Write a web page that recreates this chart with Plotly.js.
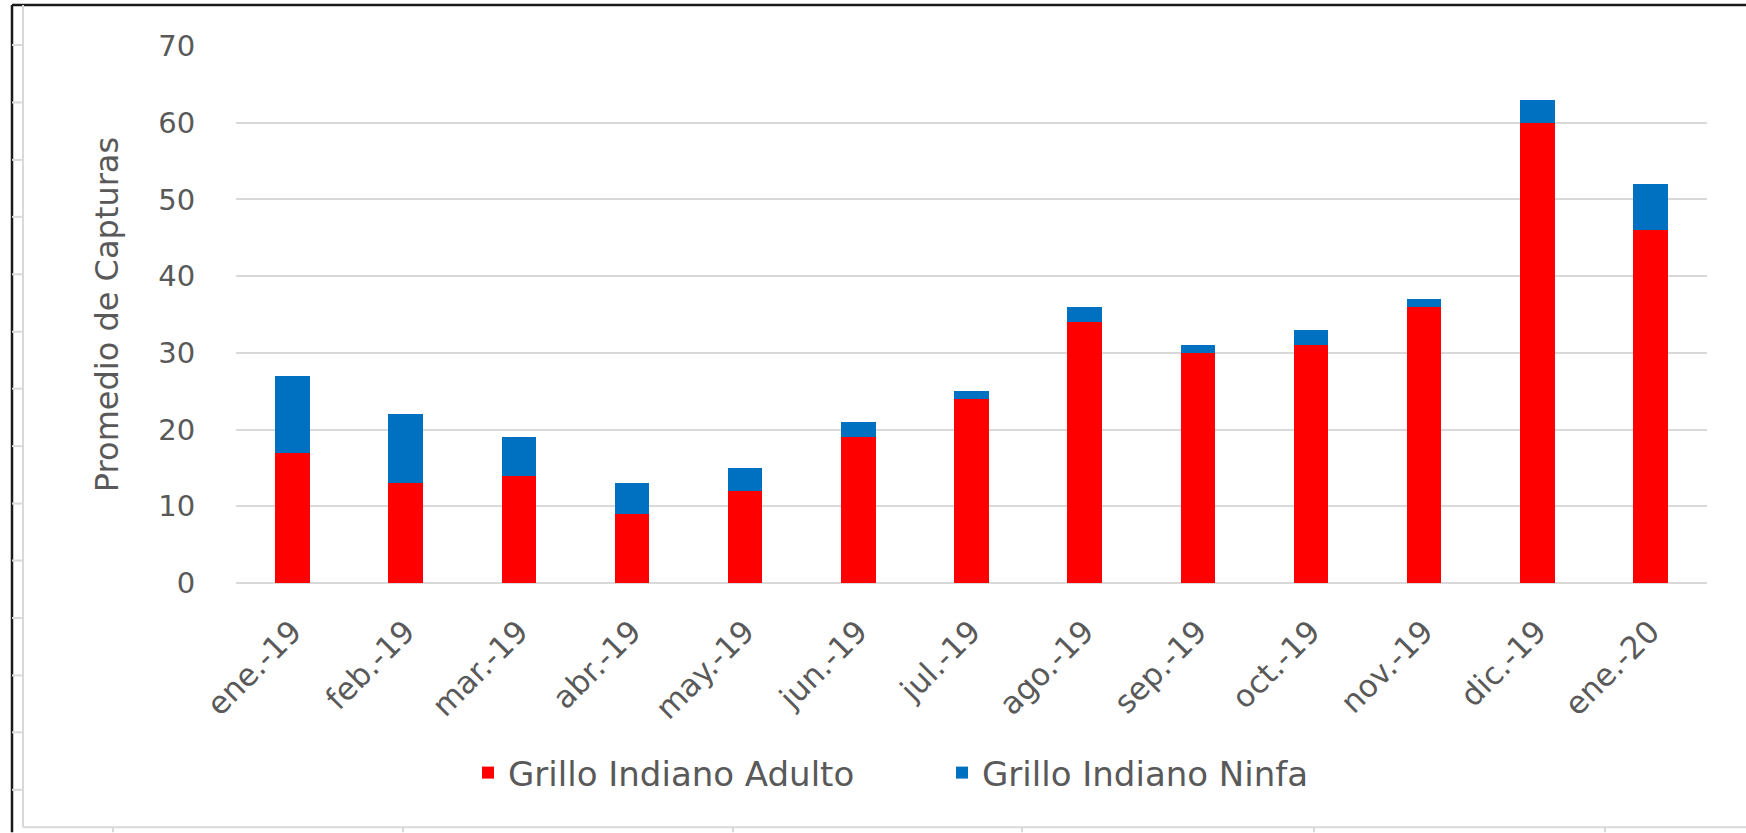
<!DOCTYPE html>
<html>
<head>
<meta charset="utf-8">
<script src="https://cdn.plot.ly/plotly-3.0.1.min.js"></script>
<style>
  html, body { margin: 0; padding: 0; background: #ffffff; }
  #chart { width: 1746px; height: 833px; }
</style>
</head>
<body>
<div id="chart"></div>
<script>
// ---- data ----
const months = ["ene.-19", "feb.-19", "mar.-19", "abr.-19", "may.-19", "jun.-19", "jul.-19",
                "ago.-19", "sep.-19", "oct.-19", "nov.-19", "dic.-19", "ene.-20"];
const adulto = [17, 13, 14, 9, 12, 19, 24, 34, 30, 31, 36, 60, 46];
const ninfa  = [10, 9, 5, 4, 3, 2, 1, 2, 1, 2, 1, 3, 6];
const seriesNames = ["Grillo Indiano Adulto", "Grillo Indiano Ninfa"];
const yTitle = "Promedio de Capturas";
const yTicks = [0, 10, 20, 30, 40, 50, 60, 70];

// ---- layout geometry (pixels) ----
const WIDTH = 1746, HEIGHT = 833;
const L = 236, R = 1707, T = 46, B = 583.5;
const PW = R - L, PH = B - T;
const px = x => (x - L) / PW;
const py = y => (B - y) / PH;

const textColor = "#595959";
const gridColor = "#d9d9d9";
const fontFam = "DejaVu Sans, Verdana, sans-serif";

const traces = [
  { type: "bar", name: seriesNames[0], x: months, y: adulto, legend: "legend",
    marker: { color: "#ff0000", line: { width: 0 } } },
  { type: "bar", name: seriesNames[1], x: months, y: ninfa, legend: "legend2",
    marker: { color: "#0070c0", line: { width: 0 } } }
];

// spreadsheet frame decorations
const shapes = [];
function seg(x0, y0, x1, y1, color, w) {
  shapes.push({ type: "line", xref: "paper", yref: "paper",
    x0: px(x0), y0: py(y0), x1: px(x1), y1: py(y1),
    line: { color: color, width: w }, layer: "below" });
}
seg(12, 5, 12, 833, "#1a1a1a", 2.5);
seg(12, 5, 1746, 5, "#1a1a1a", 2.5);
seg(23, 5, 23, 828, gridColor, 2);
seg(23, 828, 1746, 828, gridColor, 2);
[45, 102.5, 160, 217, 274.5, 332, 389, 446.5, 504, 561, 618.5, 676, 733, 790.5]
  .forEach(y => seg(12, y, 23, y, gridColor, 2));
[113, 403, 733, 1022, 1314, 1605].forEach(x => seg(x, 828, x, 833, gridColor, 2));

const legendBase = {
  orientation: "h",
  xref: "container", yref: "container",
  xanchor: "left",
  y: 1 - 773 / HEIGHT, yanchor: "middle",
  font: { family: fontFam, size: 34, color: textColor },
  itemwidth: 30,
  bgcolor: "rgba(0,0,0,0)"
};

const layout = {
  width: WIDTH, height: HEIGHT,
  margin: { l: L, r: WIDTH - R, t: T, b: HEIGHT - B, pad: 0 },
  paper_bgcolor: "#ffffff", plot_bgcolor: "#ffffff",
  barmode: "stack",
  bargap: 0.695,
  font: { family: fontFam, color: textColor, size: 30 },
  xaxis: {
    type: "category",
    tickangle: -45,
    tickfont: { family: fontFam, size: 31, color: textColor },
    ticks: "outside", ticklen: 17, tickcolor: "rgba(0,0,0,0)",
    showgrid: false, zeroline: false, showline: false,
    automargin: false
  },
  yaxis: {
    range: [0, 70],
    tickvals: yTicks,
    tickfont: { family: fontFam, size: 29, color: textColor },
    ticks: "outside", ticklen: 34, tickcolor: "rgba(0,0,0,0)",
    showgrid: true, gridcolor: gridColor, gridwidth: 2,
    zeroline: true, zerolinecolor: gridColor, zerolinewidth: 2,
    showline: false,
    title: { text: yTitle, standoff: 30,
             font: { family: fontFam, size: 32, color: textColor } },
    automargin: true
  },
  showlegend: true,
  legend: Object.assign({}, legendBase, { x: 468 / WIDTH }),
  legend2: Object.assign({}, legendBase, { x: 942 / WIDTH }),
  shapes: shapes
};

Plotly.newPlot("chart", traces, layout, { displayModeBar: false, staticPlot: true });
</script>
</body>
</html>
